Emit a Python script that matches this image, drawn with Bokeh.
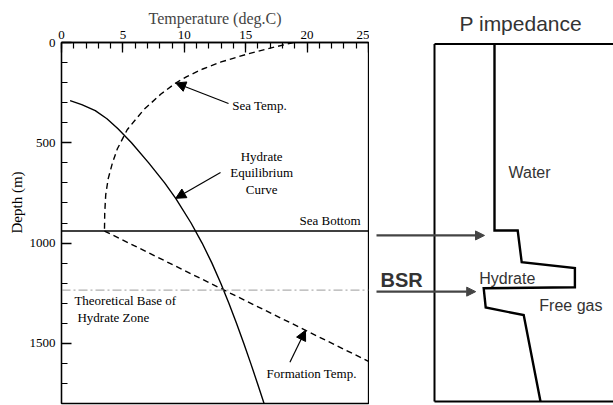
from bokeh.core.properties import value
from bokeh.embed import file_html
from bokeh.layouts import row
from bokeh.models import Arrow, FixedTicker, NormalHead, Range1d, Title
from bokeh.plotting import figure
from bokeh.resources import INLINE

# ---- data -----------------------------------------------------------------
# Water-column temperature profile (deg C) against depth (m)
sea_temp_c = [18.9, 17.0, 15.0, 13.0, 11.5, 10.2, 9.3, 8.1, 6.7, 5.35, 4.55, 4.15, 3.8, 3.6, 3.52, 3.5]
sea_temp_depth = [0, 28, 60, 97, 132, 170, 202, 257, 335, 435, 530, 600, 680, 760, 850, 940]

# Hydrate stability (equilibrium) curve
hyd_eq_c = [0.7, 1.65, 2.75, 3.7, 4.6, 5.7, 7.1, 8.4, 9.3, 10.55, 11.45, 12.25, 12.97,
            13.63, 14.25, 14.84, 15.41, 15.96, 16.55]
hyd_eq_depth = [290, 310, 340, 380, 430, 500, 600, 700, 777, 900, 1000, 1100, 1200,
                1300, 1400, 1500, 1600, 1700, 1810]

# Geothermal gradient below the sea floor
form_temp_c = [3.5, 25.0]
form_temp_depth = [940, 1590]

sea_bottom_depth = 940
bsr_depth = 1235

temp_ticks = [0, 5, 10, 15, 20, 25]
depth_ticks = [0, 500, 1000, 1500]

# Schematic P-impedance log (arbitrary units) against depth (m)
imp_value = [1.5, 1.5, 2.08, 2.18, 3.51, 3.51, 1.23, 1.28, 2.23, 2.65]
imp_depth = [-12, 933, 933, 1094, 1124, 1221, 1226, 1323, 1362, 1800]

SERIF = "Liberation Serif"
SANS = "Liberation Sans"

# ---- left panel: temperature vs depth ---------------------------------------
p = figure(width=369, height=405,
           x_range=Range1d(0, 25), y_range=Range1d(1800, 0),
           x_axis_location="above", y_axis_location="left",
           output_backend="svg", toolbar_location=None,
           min_border_left=61, min_border_right=1,
           min_border_top=42, min_border_bottom=2)
p.xgrid.visible = False
p.ygrid.visible = False
p.outline_line_color = "black"
p.outline_line_width = 1.3
p.background_fill_color = "white"
p.border_fill_color = "white"

p.xaxis.ticker = FixedTicker(ticks=temp_ticks, minor_ticks=list(range(0, 26)))
p.yaxis.ticker = FixedTicker(ticks=depth_ticks, minor_ticks=list(range(0, 1801, 100)))
p.xaxis.axis_label = "Temperature (deg.C)"
p.xaxis.axis_label_text_font = SERIF
p.xaxis.axis_label_text_font_style = "normal"
p.xaxis.axis_label_text_font_size = "16px"
p.xaxis.axis_label_standoff = 1
for ax in (p.xaxis, p.yaxis):
    ax.axis_line_color = "black"
    ax.axis_line_width = 1.3
    ax.major_tick_line_color = "black"
    ax.major_tick_line_width = 1.3
    ax.minor_tick_line_color = "black"
    ax.minor_tick_line_width = 1.2
    ax.major_tick_in = 10
    ax.major_tick_out = 0
    ax.minor_tick_in = 6
    ax.minor_tick_out = 0
    ax.major_label_text_font = SERIF
    ax.major_label_text_font_size = "13px"
    ax.major_label_text_color = "black"
p.xaxis.major_label_standoff = 4
p.yaxis.major_label_standoff = 6
p.yaxis.major_label_orientation = "horizontal"

depth_title = Title(text="Depth (m)", align="left", offset=170, standoff=4,
                    text_font=SERIF, text_font_size="15px", text_font_style="normal",
                    text_color="black")
p.add_layout(depth_title, "left")

# curves
p.line(sea_temp_c, sea_temp_depth, line_color="black", line_width=1.4, line_dash="6 4")
p.line(form_temp_c, form_temp_depth, line_color="black", line_width=1.4, line_dash="6 4")
p.line(hyd_eq_c, hyd_eq_depth, line_color="black", line_width=1.4)

# sea bottom and theoretical base of the hydrate zone
p.line([0, 25], [sea_bottom_depth, sea_bottom_depth], line_color="black", line_width=1.3)
p.line([0, 25], [bsr_depth, bsr_depth], line_color="#b0b0b0", line_width=1.2,
       line_dash="9 3 2 3")

# annotations
p.text(x=[13.9], y=[314], text=["Sea Temp."], text_font=value(SERIF),
       text_font_size="13px", text_baseline="middle", text_align="left")
p.text(x=[16.3, 16.3, 16.3], y=[567, 650, 735],
       text=["Hydrate", "Equilibrium", "Curve"], text_font=value(SERIF),
       text_font_size="13px", text_baseline="middle", text_align="center")
p.text(x=[24.35], y=[sea_bottom_depth - 50], text=["Sea Bottom"], text_font=value(SERIF),
       text_font_size="13px", text_baseline="middle", text_align="right")
p.text(x=[1.05, 1.3], y=[bsr_depth + 53, bsr_depth + 137],
       text=["Theoretical Base of", "Hydrate Zone"], text_font=value(SERIF),
       text_font_size="13px", text_baseline="middle", text_align="left")
p.text(x=[16.7], y=[1650], text=["Formation Temp."], text_font=value(SERIF),
       text_font_size="13px", text_baseline="middle", text_align="left")


def pointer(fig, x0, y0, x1, y1, color="black", width=1.2, size=10):
    fig.add_layout(Arrow(x_start=x0, y_start=y0, x_end=x1, y_end=y1,
                         line_color=color, line_width=width,
                         end=NormalHead(size=size, fill_color=color, line_color=color,
                                        line_width=1)))


pointer(p, 13.6, 304, sea_temp_c[6], sea_temp_depth[6])
pointer(p, 12.95, 648, hyd_eq_c[8], hyd_eq_depth[8])
tip_t = 19.87
tip_d = form_temp_depth[0] + (tip_t - form_temp_c[0]) * (form_temp_depth[1] - form_temp_depth[0]) / (form_temp_c[1] - form_temp_c[0])
pointer(p, 18.6, 1594, tip_t, tip_d)

# ---- right panel: P impedance ------------------------------------------------
q = figure(width=244, height=405,
           x_range=Range1d(-1.625, 4.475), y_range=Range1d(1810, -20),
           x_axis_type=None, y_axis_type=None,
           output_backend="svg", toolbar_location=None,
           min_border_left=0, min_border_right=0,
           min_border_top=38, min_border_bottom=0,
           title="P impedance")
q.xgrid.visible = False
q.ygrid.visible = False
q.outline_line_color = None
q.title.text_font = SANS
q.title.text_font_style = "normal"
q.title.text_font_size = "21px"
q.title.text_color = "#333333"
q.title.align = "left"
q.title.offset = 90
q.title.standoff = 16

box_top, box_bottom, box_right = -12, 1800, 4.6
q.multi_line([[0, 0], [0, box_right], [0, box_right]],
             [[box_top, box_bottom], [box_top, box_top], [box_bottom, box_bottom]],
             line_color="black", line_width=2)
q.line(imp_value, imp_depth, line_color="black", line_width=2.4, line_join="miter")

q.text(x=[1.85], y=[640], text=["Water"], text_font=value(SANS), text_font_size="16px",
       text_color="#333333", text_baseline="middle")
q.text(x=[1.12], y=[1176], text=["Hydrate"], text_font=value(SANS), text_font_size="16px",
       text_color="#333333", text_baseline="middle")
q.text(x=[2.62], y=[1312], text=["Free gas"], text_font=value(SANS), text_font_size="16px",
       text_color="#333333", text_baseline="middle")
q.text(x=[-1.35], y=[1186], text=["BSR"], text_font=value(SANS), text_font_size="20px",
       text_font_style="bold", text_color="#333333", text_baseline="middle")

pointer(q, -1.45, sea_bottom_depth + 18, 1.25, sea_bottom_depth + 18, color="#444444", width=2.2, size=9)
pointer(q, -1.45, bsr_depth + 8, 1.03, bsr_depth + 8, color="#444444", width=2.2, size=9)

layout = row(p, q, spacing=0)
open("out.html", "w").write(file_html(layout, INLINE))
